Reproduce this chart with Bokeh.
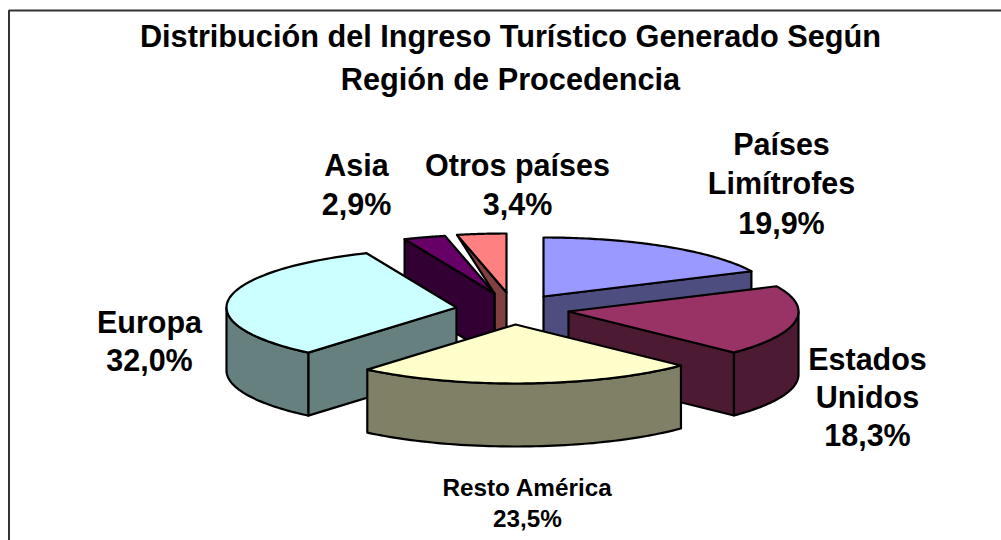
import numpy as np
from bokeh.plotting import figure
from bokeh.models import Range1d, ColumnDataSource
from bokeh.core.properties import value
from bokeh.embed import file_html
from bokeh.resources import INLINE

# ---- data ----
title_lines = ["Distribución del Ingreso Turístico Generado Según", "Región de Procedencia"]
regions = ["Países Limítrofes", "Estados Unidos", "Resto América", "Europa", "Asia", "Otros países"]
shares = [19.9, 18.3, 23.5, 32.0, 2.9, 3.4]
label_lines = [["Países", "Limítrofes"], ["Estados", "Unidos"], ["Resto América"], ["Europa"], ["Asia"], ["Otros países"]]

# ---- styles / layout ----
top_colors = ["#9999FF", "#993366", "#FFFFCC", "#CCFFFF", "#660066", "#FF8080"]
side_colors = ["#4D4D80", "#4D1A33", "#808066", "#668080", "#330033", "#804040"]
apex = [(543, 296), (568, 311), (515, 324), (456, 307), (494, 293), (506, 292)]
label_anchor = [(781, 143), (867, 358), (527, 487), (149, 321), (356, 164), (517, 164)]
label_step = [39.5, 38, 31, 38.5, 39.5, 39.5]
label_px = [30.5, 30.5, 24.3, 30.5, 30.5, 30.5]
RX, RY, DEPTH = 230, 59, 63
draw_order = [0, 5, 4, 3, 1, 2]
# Excel's 3-D projection slightly shifts the nominal angles
warp_in = [0, 72, 138, 222, 360]
warp_out = [0, 65, 134.5, 220, 360]

fig_left, fig_top, W, H = 0, 0, 1001, 540
p = figure(width=W, height=H, output_backend="svg", toolbar_location=None,
           x_range=Range1d(fig_left, fig_left + W), y_range=Range1d(fig_top + H, fig_top),
           min_border=0, outline_line_color=None, background_fill_color="white")
p.axis.visible = False
p.grid.visible = False

# frame: only the top and left lines are visible in the crop
p.line([8.5, 8.5, fig_left + W], [fig_top + H, 10, 10], line_color="#333333", line_width=2)

edges = np.cumsum([0] + shares) / sum(shares) * 360.0
edges_p = np.radians(np.interp(edges, warp_in, warp_out))


def ell(c, t):
    t = np.asarray(t, dtype=float)
    return c[0] + RX * np.sin(t), c[1] - RY * np.cos(t)


def poly(xs, ys, color):
    p.patch(list(xs), list(ys), fill_color=color, line_color="black", line_width=2.2, line_join="round")


for i in draw_order:
    a, b = edges_p[i], edges_p[i + 1]
    c = apex[i]
    ax, ay = ell(c, a)
    bx, by = ell(c, b)
    # cut face on the start side
    if np.sin(a) < -1e-6:
        if regions[i] == "Otros países":
            # this narrow face is only visible between the neighbour's apex and its own
            n = apex[i - 1]
            poly([ax, c[0], c[0], n[0], n[0]], [ay, c[1], c[1] + DEPTH, c[1] + DEPTH, n[1]], side_colors[i])
        else:
            poly([c[0], ax, ax, c[0]], [c[1], ay, ay + DEPTH, c[1] + DEPTH], side_colors[i])
    # cut face on the end side
    if np.sin(b) > 1e-6:
        poly([c[0], bx, bx, c[0]], [c[1], by, by + DEPTH, c[1] + DEPTH], side_colors[i])
    # outer rim, front half only
    lo, hi = max(a, np.pi / 2), min(b, 1.5 * np.pi)
    if hi > lo:
        t = np.linspace(lo, hi, 60)
        x, y = ell(c, t)
        poly(np.r_[x, x[::-1]], np.r_[y, y[::-1] + DEPTH], side_colors[i])
    # top face
    t = np.linspace(a, b, 80)
    x, y = ell(c, t)
    poly(np.r_[c[0], x], np.r_[c[1], y], top_colors[i])

# texts
tx, ty, ts, tz = [], [], [], []
for line, yy in zip(title_lines, (36, 79)):
    tx.append(510); ty.append(yy); ts.append(line); tz.append("30.7px")
for i, lines in enumerate(label_lines):
    all_lines = lines + [f"{shares[i]:.1f}".replace(".", ",") + "%"]
    for k, line in enumerate(all_lines):
        tx.append(label_anchor[i][0])
        ty.append(label_anchor[i][1] + k * label_step[i])
        ts.append(line)
        tz.append(f"{label_px[i]}px")
src = ColumnDataSource(dict(x=tx, y=ty, text=ts, size=tz))
p.text("x", "y", text="text", source=src, text_font=value("Liberation Sans"), text_font_style="bold",
       text_font_size="size", text_align="center", text_baseline="middle", text_color="black")

open("out.html", "w").write(file_html(p, INLINE))
